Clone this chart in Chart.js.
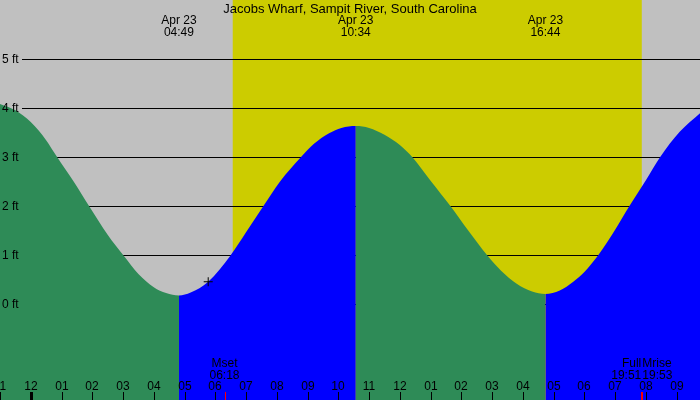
<!DOCTYPE html>
<html>
<head>
<meta charset="utf-8">
<script src="https://cdn.jsdelivr.net/npm/chart.js@4"></script>
<style>
html,body{margin:0;padding:0;background:#c0c0c0;}
#wrap{width:700px;height:400px;}
canvas{display:block;}
</style>
</head>
<body>
<div id="wrap"><canvas id="c" width="700" height="400"></canvas></div>
<script>
// ---- data (hours relative to midnight of Apr 23; heights in ft) ----
const chartTitle = "Jacobs Wharf, Sampit River, South Carolina";
const tideHours = [-1.00,-0.50,0.00,0.50,0.84,1.40,1.90,2.50,3.01,3.50,4.00,4.40,4.82,
  5.20,5.77,6.50,7.00,7.56,8.10,8.78,9.20,9.70,10.10,10.57,
  11.00,11.50,12.00,12.41,13.00,13.65,14.23,14.84,15.30,15.80,16.30,16.73,
  17.20,17.64,18.00,18.45,19.00,19.46,20.00,20.46,21.10,21.76];
const tideFeet = [4.09,3.96,3.72,3.35,3.02,2.50,2.00,1.42,1.00,0.62,0.35,0.23,0.18,
  0.24,0.46,1.00,1.47,2.00,2.50,3.00,3.27,3.49,3.60,3.64,
  3.60,3.46,3.25,3.00,2.52,2.00,1.50,1.00,0.68,0.42,0.26,0.21,
  0.28,0.46,0.66,1.00,1.52,2.00,2.53,3.00,3.52,3.90];
const extremeDates = ["Apr 23","Apr 23","Apr 23"];
const extremeTimes = ["04:49","10:34","16:44"];
const markerTime = 5.77;   // "+" marker
const markerFeet = 0.46;
const sunrise = "06:34";
const sunset = "19:52";
const moonLabels = ["Mset","Full","Mrise"];
const moonTimes = ["06:18","19:51","19:53"];
const moonAlign = ["center","right","left"];
const moonTick = [true,false,true];
const yTicks = [0,1,2,3,4,5];
const hourTicks = [-1,0,1,2,3,4,5,6,7,8,9,10,11,12,13,14,15,16,17,18,19,20,21];

const toH = s => { const [h,m] = s.split(":").map(Number); return h + m/60; };
const GREEN = "#2e8b57", BLUE = "#0000ff", GRAY = "#c0c0c0", YELLOW = "#cccc00";
const FONT = "12px 'Liberation Sans', Arial, sans-serif";

const tidePoints = tideHours.map((h,i)=>({x:h,y:tideFeet[i]}));

const decor = {
  id:"decor",
  beforeDatasetsDraw(chart){
    const {ctx, chartArea:a, scales:{x,y}} = chart;
    ctx.save();
    ctx.fillStyle = GRAY;
    ctx.fillRect(0,0,chart.width,chart.height);
    const x1 = x.getPixelForValue(toH(sunrise)), x2 = x.getPixelForValue(toH(sunset));
    ctx.fillStyle = YELLOW;
    ctx.fillRect(x1,a.top,x2-x1,a.bottom-a.top);
    ctx.strokeStyle = "#000"; ctx.lineWidth = 1;
    yTicks.forEach(v=>{
      const py = Math.round(y.getPixelForValue(v))+0.5;
      ctx.beginPath(); ctx.moveTo(22,py); ctx.lineTo(a.right,py); ctx.stroke();
    });
    ctx.restore();
  },
  afterDatasetsDraw(chart){
    const {ctx, chartArea:a, scales:{x,y}} = chart;
    ctx.save();
    ctx.fillStyle = "#000";
    ctx.textBaseline = "alphabetic";
    ctx.font = "13px 'Liberation Sans', Arial, sans-serif";
    ctx.textAlign = "center";
    ctx.fillText(chartTitle, 350, 12.5);
    ctx.font = FONT;
    extremeTimes.forEach((t,i)=>{
      const px = x.getPixelForValue(toH(t));
      ctx.fillText(extremeDates[i], px, 24);
      ctx.fillText(t, px, 36);
    });
    ctx.textAlign = "left";
    yTicks.forEach(v=>{
      const py = Math.round(y.getPixelForValue(v));
      ctx.fillText(v+" ft", 2, py+4);
    });
    ctx.textAlign = "center";
    hourTicks.forEach(h=>{
      const px = Math.round(x.getPixelForValue(h));
      const lab = String(((h+24)%12)||12).padStart(2,"0");
      ctx.fillText(lab, px, 390);
      if (((h+24)%24)===0) ctx.fillRect(px-1,392,3,8);
      else ctx.fillRect(px,392,1,8);
    });
    moonLabels.forEach((l,i)=>{
      const px = x.getPixelForValue(toH(moonTimes[i]));
      ctx.textAlign = moonAlign[i];
      ctx.fillStyle = "#000";
      ctx.fillText(l, px, 366.5);
      ctx.fillText(moonTimes[i], px, 378.5);
      if (moonTick[i]) {
        ctx.fillStyle = "#ff0000";
        ctx.fillRect(Math.round(px)-(i===2?1:0),392,i===2?2:1,8);
      }
    });
    ctx.restore();
  }
};

new Chart(document.getElementById("c"), {
  type:"line",
  data:{
    datasets:[
      {
        data:[{x:markerTime,y:markerFeet}],
        showLine:false, pointStyle:"cross", pointRadius:4.5, pointHoverRadius:4.5,
        borderColor:"#000", pointBorderColor:"#000", pointBorderWidth:1, backgroundColor:"#000"
      },
      {
        data:tidePoints,
        fill:"start",
        borderWidth:0, borderColor:"rgba(0,0,0,0)",
        pointRadius:0,
        cubicInterpolationMode:"monotone",
        backgroundColor:BLUE,
        segment:{
          backgroundColor: c => c.p1.parsed.y < c.p0.parsed.y ? GREEN : BLUE
        }
      }
    ]
  },
  options:{
    responsive:false, animation:false, devicePixelRatio:1,
    layout:{padding:0, autoPadding:false},
    plugins:{legend:{display:false}, tooltip:{enabled:false}, title:{display:false}},
    events:[],
    scales:{
      x:{type:"linear", min:-1.0, max:21.76, display:false},
      y:{type:"linear", min:-1.953, max:6.21, display:false}
    }
  },
  plugins:[decor]
});
</script>
</body>
</html>
